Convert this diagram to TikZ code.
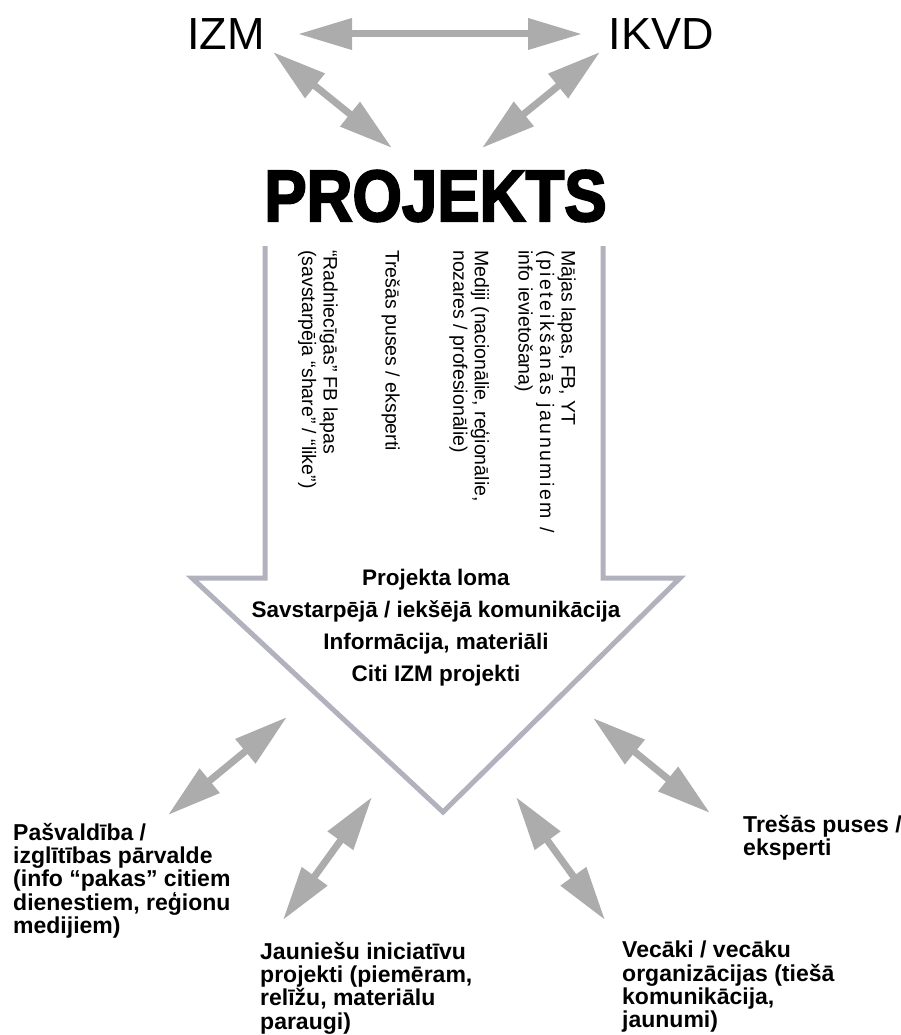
\documentclass[tikz,border=0pt]{standalone}
\usepackage{fontspec}
\setmainfont{Liberation Sans}
\newfontfamily\heavyfont[FakeBold=3]{Liberation Sans Bold}
\usetikzlibrary{arrows.meta}
\usetikzlibrary{calc, positioning}
\definecolor{linkgray}{RGB}{172,172,172}
\definecolor{outlinegray}{RGB}{178,178,190}

\begin{document}
\begin{tikzpicture}[x=1pt, y=-1pt,
    link/.style={draw=linkgray, line width=7pt,
      {Triangle[length=54pt,width=30pt]}-{Triangle[length=54pt,width=30pt]}},
    bigarrow/.style={draw=outlinegray, line width=5pt, line join=miter},
    toplabel/.style={inner sep=0pt, font=\fontsize{45}{50}\selectfont},
    channel/.style={inner sep=0pt, rotate=-90, anchor=north west, align=left,
      font=\fontsize{19.5}{21.5}\selectfont},
    partner/.style={inner sep=0pt, anchor=north west, align=left,
      font=\bfseries\fontsize{23}{23.3}\selectfont}
  ]
  \useasboundingbox (0,0) rectangle (901,1035);

  % the three actors on top
  \node[toplabel] (izm)  at (226,34) {IZM};
  \node[toplabel] (ikvd) at (661,34) {IKVD};
  \node[inner sep=0pt] (proj) at (435.5,196)
    {\scalebox{0.875}[1]{\heavyfont\fontsize{72.6}{80}\selectfont PROJEKTS}};

  \coordinate (izm-e)  at (298,34);
  \coordinate (ikvd-w) at (582,34);
  \coordinate (izm-s)  at (273,52);
  \coordinate (ikvd-s) at (600,52);
  \coordinate (proj-nw) at (392,148);
  \coordinate (proj-ne) at (482,148);
  \draw[link] (izm-e) -- (ikvd-w);
  \draw[link] (izm-s) -- (proj-nw);
  \draw[link] (ikvd-s) -- (proj-ne);

  % the big open arrow
  \draw[bigarrow] (265,246) -- (265,578) -- (192,578) -- (443,812)
    -- (680,578) -- (603,578) -- (603,246);

  % channels inside the shaft
  \node[channel] (web)   at (576,250) {Mājas lapas, FB, YT\\{\addfontfeature{LetterSpace=13}(pieteikšanās jaunumiem /}\\info ievietošana)};
  \node[channel] (media) at (490,250) {Mediji (nacionālie, reģionālie,\\nozares / profesionālie)};
  \node[channel] (third) at (400,250) {Trešās puses / eksperti};
  \node[channel] (fb)    at (338,250) {“Radniecīgās” FB lapas\\(savstarpēja “share” / “like”)};

  \node[inner sep=0pt, anchor=north, align=center,
    font=\bfseries\fontsize{22.5}{32}\selectfont] (role) at (436,569)
    {Projekta loma\\Savstarpējā / iekšējā komunikācija\\Informācija, materiāli\\Citi IZM projekti};

  % partners below
  \node[partner] (pasv) at (13,823) {Pašvaldība /\\izglītības pārvalde\\(info “pakas” citiem\\dienestiem, reģionu\\medijiem)};
  \node[partner] (jaun) at (260,942) {Jauniešu iniciatīvu\\projekti (piemēram,\\relīžu, materiālu\\paraugi)};
  \node[partner] (vec)  at (622,941) {Vecāki / vecāku\\organizācijas (tiešā\\komunikācija,\\jaunumi)};
  \node[partner] (eksp) at (743,815) {Trešās puses /\\eksperti};

  \coordinate (arr-l)  at (287,717);
  \coordinate (arr-ml) at (372,797);
  \coordinate (arr-mr) at (516,797);
  \coordinate (arr-r)  at (593,718);
  \coordinate (pasv-n) at (168,815);
  \coordinate (jaun-n) at (283,920);
  \coordinate (vec-n)  at (605,920);
  \coordinate (eksp-w) at (710,813);
  \draw[link] (arr-l)  -- (pasv-n);
  \draw[link] (arr-ml) -- (jaun-n);
  \draw[link] (arr-mr) -- (vec-n);
  \draw[link] (arr-r)  -- (eksp-w);
\end{tikzpicture}
\end{document}
